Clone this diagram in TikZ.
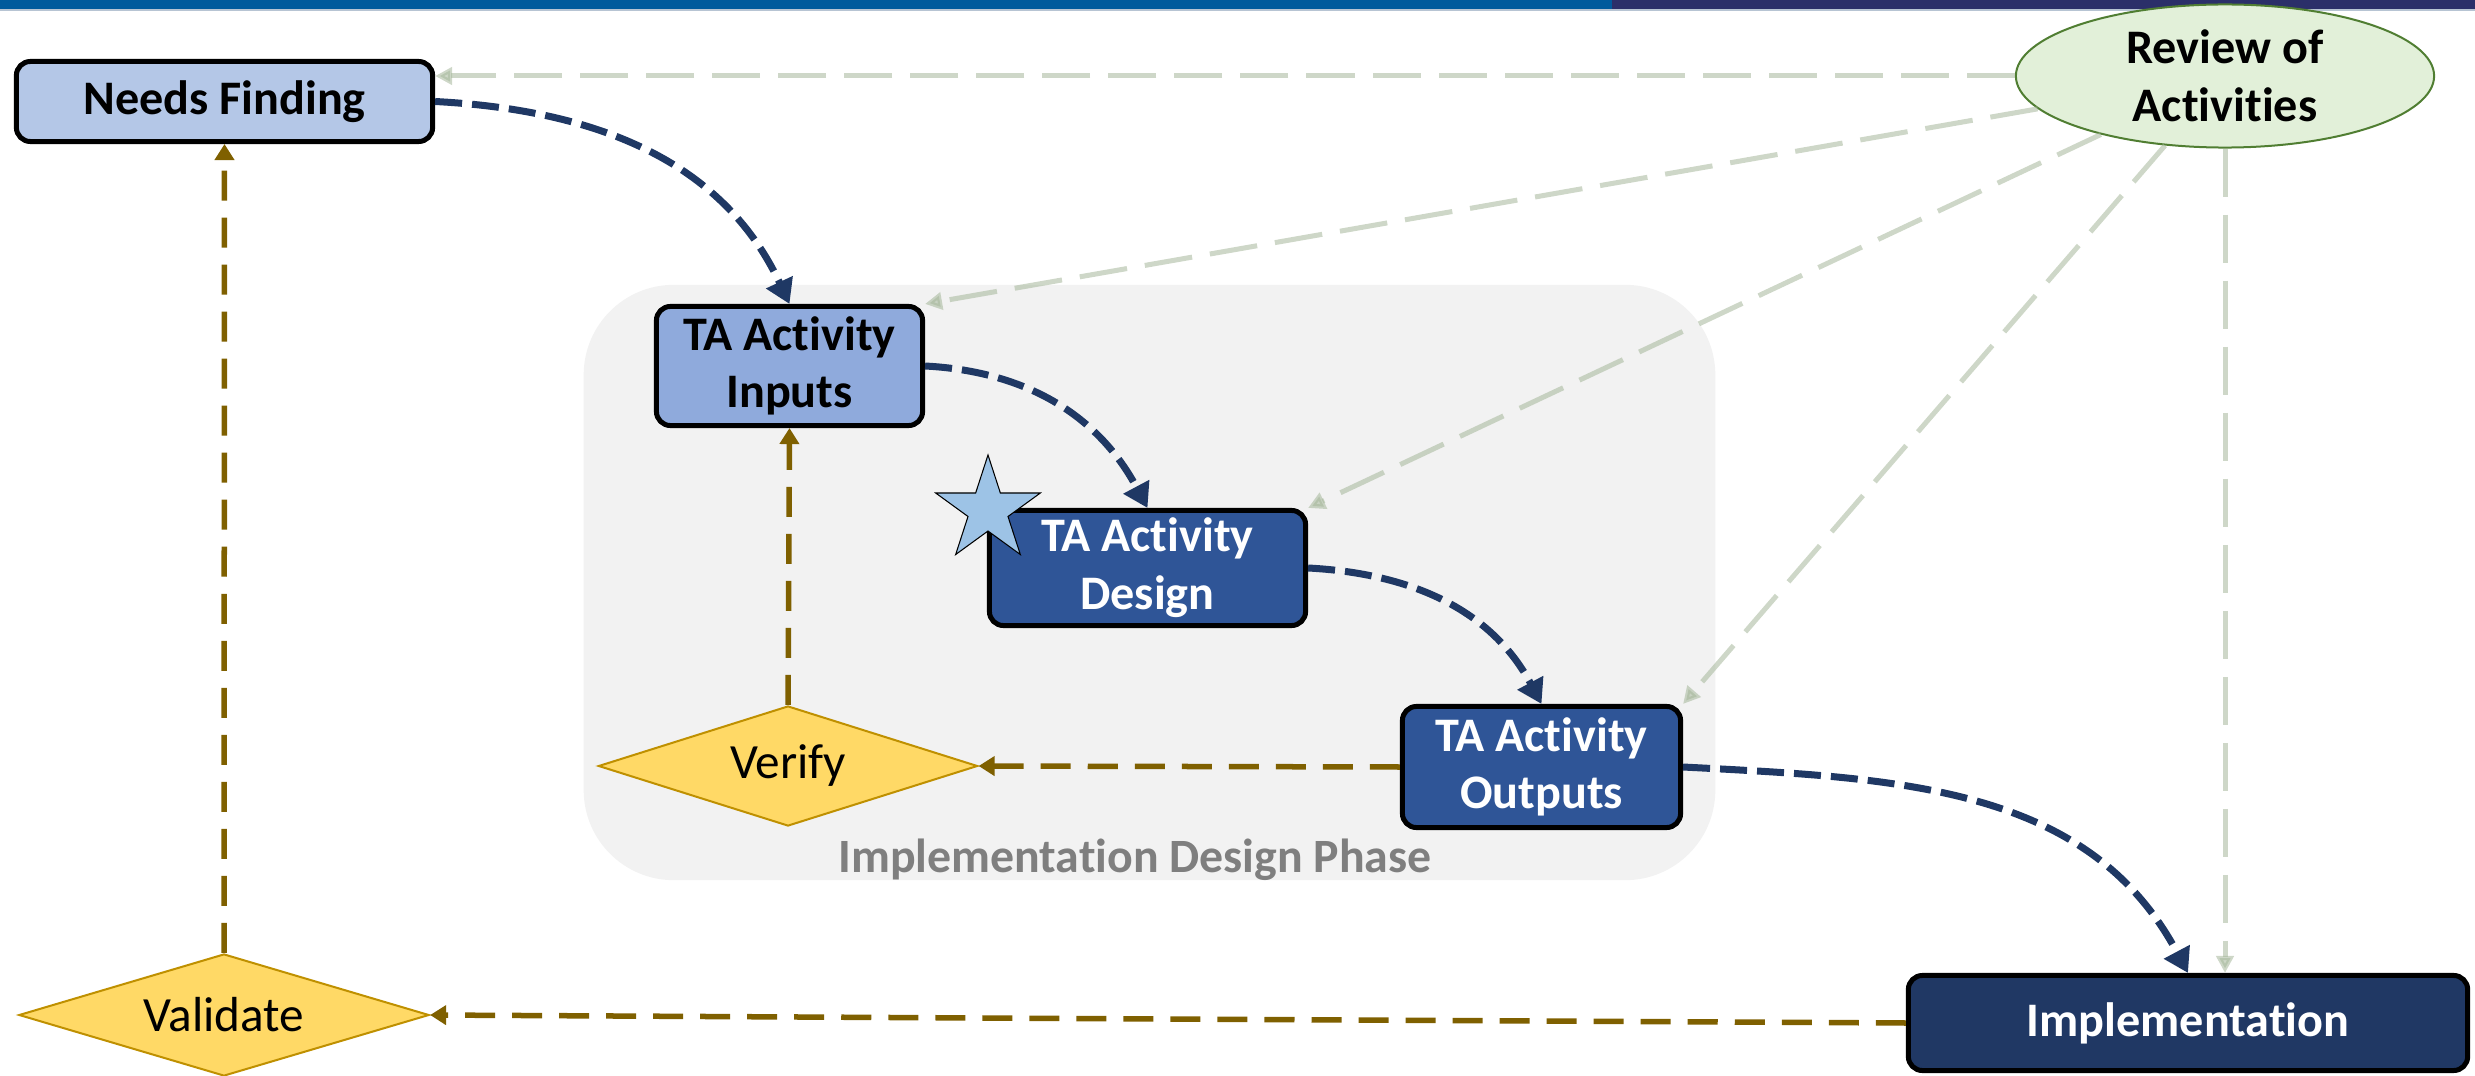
\documentclass[tikz,border=0pt]{standalone}
\usepackage{fontspec}
\setmainfont{Carlito}[Ligatures=NoCommon]
\usetikzlibrary{arrows.meta,shapes.geometric}
\definecolor{barblue}{HTML}{005A9C}
\definecolor{barnavy}{HTML}{2B2F69}
\definecolor{barline}{HTML}{B7C4D3}
\definecolor{needfill}{HTML}{B4C7E7}
\definecolor{inpfill}{HTML}{8FAADC}
\definecolor{desfill}{HTML}{2F5597}
\definecolor{impfill}{HTML}{203864}
\definecolor{flownavy}{HTML}{1F3864}
\definecolor{checkbrown}{HTML}{7F6000}
\definecolor{checkfill}{HTML}{FFD966}
\definecolor{checkedge}{HTML}{BF9000}
\definecolor{revfill}{HTML}{E2F0D9}
\definecolor{revedge}{HTML}{507E32}
\definecolor{revline}{HTML}{A5B79A}
\definecolor{phasefill}{HTML}{F2F2F2}
\definecolor{phasetext}{HTML}{7F7F7F}
\definecolor{starfill}{HTML}{9DC3E6}
\newcommand{\boxfnt}{\fontsize{13.7}{16.4}\selectfont\bfseries}
\newcommand{\chkfnt}{\fontsize{14}{16.8}\selectfont}
\tikzset{
  tabox/.style={draw=black, line width=0.05cm, rounded corners=0.14cm,
                inner sep=0pt, align=center, font=\boxfnt},
  needbox/.style={tabox, fill=needfill, text=black, minimum width=4.16cm, minimum height=0.80cm},
  inbox/.style={tabox, fill=inpfill, text=black, minimum width=2.66cm, minimum height=1.19cm},
  desbox/.style={tabox, fill=desfill, text=white, minimum width=3.16cm, minimum height=1.15cm},
  outbox/.style={tabox, fill=desfill, text=white, minimum width=2.78cm, minimum height=1.21cm},
  impbox/.style={tabox, fill=impfill, text=white, minimum width=5.59cm, minimum height=0.95cm},
  checkbox/.style={diamond, aspect=3.3, draw=checkedge, line width=0.02cm, fill=checkfill,
                   inner sep=0pt, font=\chkfnt},
  revbox/.style={ellipse, draw=revedge, line width=0.02cm, fill=revfill, inner sep=0pt,
                 align=center, font=\boxfnt, minimum width=4.18cm, minimum height=1.43cm},
  phasebox/.style={fill=phasefill, rounded corners=0.9cm, inner sep=0pt,
                   minimum width=11.31cm, minimum height=5.95cm},
  phaselbl/.style={text=phasetext, font=\fontsize{13.6}{16}\selectfont\bfseries},
  starmark/.style={star, star points=5, star point ratio=2.618, draw=black, line width=0.3pt,
                   fill=starfill, inner sep=0pt, minimum size=1.1cm},
  narr/.style={-{Triangle[length=0.24cm, width=0.28cm]}, line width=0.07cm, color=flownavy,
               dash pattern=on 0.27cm off 0.1cm},
  barr/.style={-{Triangle[length=0.16cm, width=0.19cm]}, line width=0.055cm, color=checkbrown,
               dash pattern=on 0.3cm off 0.17cm},
  garr/.style={-{Triangle[length=0.17cm, width=0.17cm]}, line width=0.05cm, color=revline,
               opacity=0.55, dash pattern=on 0.48cm off 0.18cm}}

\begin{document}
\begin{tikzpicture}[x=0.01cm, y=-0.01cm]
  \useasboundingbox (0,0) rectangle (2475,1076);
  % title bar
  \fill[barblue] (0,0) rectangle (1612,9);
  \fill[barnavy] (1612,0) rectangle (2475,9);
  \fill[barline] (0,9) rectangle (2475,11);

  % design phase group
  \node[phasebox] (phase) at (1149.5,582.5) {};
  \node[phaselbl, anchor=base] (phasetxt) at (1135,872) {Implementation Design Phase};

  \node[needbox] (need) at (224.5,101.5) {Needs Finding};
  \node[inbox] (inp) at (789.5,366) {TA Activity\\Inputs};
  \node[desbox] (des) at (1147.5,568) {TA Activity\\Design};
  \node[starmark] (mark) at (988,510) {};
  \node[outbox] (outp) at (1541.5,767) {TA Activity\\Outputs};
  \node[impbox] (impl) at (2188,1023) {Implementation};
  \node[checkbox, minimum width=3.79cm, minimum height=1.2cm] (verify) at (788,766) {Verify};
  \node[checkbox, minimum width=4.1cm, minimum height=1.22cm] (valid) at (224,1015) {Validate};
  \node[revbox] (rev) at (2225,76) {Review of\\Activities};

  % main flow
  \draw[narr] (need.east) to[out=-3, in=115] (inp.north);
  \draw[narr] (inp.east) to[out=-3, in=118] (des.north);
  \draw[narr] (des.east) to[out=-3, in=118] (outp.north);
  \draw[narr] (outp.east) to[out=-3, in=118] (impl.north);

  % checks
  \draw[barr] (outp.west) -- (verify.east);
  \draw[barr] (verify.north) -- (inp.south);
  \draw[barr] (impl.west) -- (valid.east);
  \draw[barr] (valid.north) -- (need.south);

  % review links
  \draw[garr] (rev.west) -- (need.east |- rev.west);
  \draw[garr] (rev) -- (inp.north east);
  \draw[garr] (rev) -- (des.north east);
  \draw[garr] (rev) -- (outp.north east);
  \draw[garr] (rev.south) -- (rev.south |- impl.north);
\end{tikzpicture}
\end{document}
